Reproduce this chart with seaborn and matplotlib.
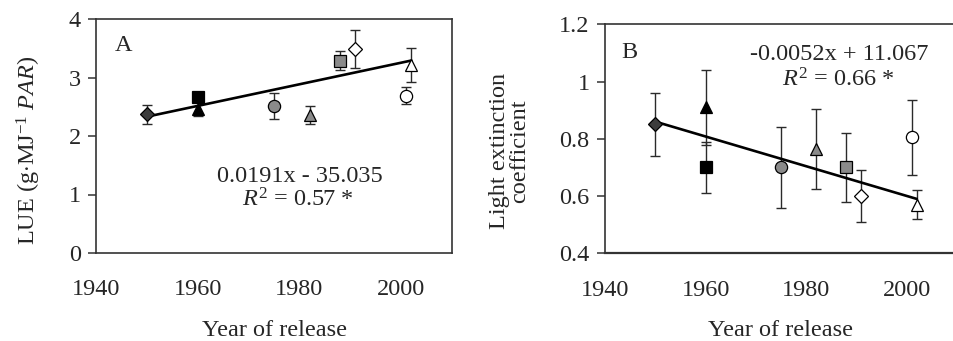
import matplotlib
matplotlib.use("Agg")
import matplotlib.pyplot as plt
import seaborn as sns
import pandas as pd

# ---- data ----
years = [1950, 1960, 1960, 1975, 1982, 1988, 1991, 2001, 2002]
markers = ['D', 's', '^', 'o', '^', 's', 'D', 'o', '^']
face = ['#3c3c3c', 'black', 'black', '#8a8a8a', '#8a8a8a', '#8a8a8a', 'white', 'white', 'white']

lue = [2.37, 2.67, 2.47, 2.51, 2.36, 3.29, 3.49, 2.69, 3.22]
lue_err = [0.16, 0.07, 0.13, 0.22, 0.15, 0.16, 0.33, 0.15, 0.29]

kext = [0.85, 0.70, 0.91, 0.70, 0.765, 0.70, 0.60, 0.805, 0.57]
kext_err = [0.11, 0.09, 0.13, 0.14, 0.14, 0.12, 0.09, 0.13, 0.05]

fit_x = [1950, 2002]
fit_lue = [2.33, 3.29]
fit_k = [0.86, 0.59]

x_major = [1940, 1960, 1980, 2000]
x_minor = [1950, 1970, 1990]
yticks_a = [0, 1, 2, 3, 4]
yticks_b = [0.4, 0.6, 0.8, 1.0, 1.2]
ylabels_b = ['0.4', '0.6', '0.8', '1', '1.2']

sns.set_style("white")
plt.rcParams['font.family'] = ['Liberation Serif', 'DejaVu Serif']
plt.rcParams['mathtext.fontset'] = 'custom'
plt.rcParams['mathtext.rm'] = 'Liberation Serif'
plt.rcParams['mathtext.it'] = 'Liberation Serif:italic'
FS = 17.5

fig = plt.figure(figsize=(9.54, 3.41), dpi=100)
axA = fig.add_axes([96/954, 1-253/341, 356/954, 234/341])
axB = fig.add_axes([605/954, 1-253.3/341, 352/954, 229/341])

msize = {'D': 7.3, 's': 8.0, '^': 8.8, 'o': 8.8}


def draw(ax, vals, errs, fit):
    df = pd.DataFrame({'x': fit_x, 'y': fit})
    sns.lineplot(data=df, x='x', y='y', ax=ax, color='black', lw=1.9, zorder=3)
    for x, v, e, m, f in zip(years, vals, errs, markers, face):
        ax.errorbar(x, v, yerr=e, fmt='none', ecolor='#2a2a2a', elinewidth=1.0,
                    capsize=3.5, capthick=1.0, zorder=2)
        ax.plot([x], [v], marker=m, markersize=msize[m], markerfacecolor=f,
                markeredgecolor='black', markeredgewidth=0.9, linestyle='none', zorder=4)
    ax.set_xlim(1940, 2010)
    ax.set_xticks(x_major)
    ax.set_xticks(x_minor, minor=True)
    ax.set_xticklabels([str(v) for v in x_major], fontsize=FS)
    ax.tick_params(axis='x', which='both', direction='in', length=5, width=1.1,
                   pad=19, color='#333333')
    ax.tick_params(axis='y', direction='out', length=6, width=1.1, pad=5,
                   labelsize=FS, color='#333333', left=True)
    ax.set_xlabel('Year of release', fontsize=FS)
    for s in ax.spines.values():
        s.set_color('#333333')
        s.set_linewidth(1.2)
    ax.grid(False)


draw(axA, lue, lue_err, fit_lue)
axA.set_ylim(0, 4)
axA.set_yticks(yticks_a)
axA.set_yticklabels([str(v) for v in yticks_a])
axA.set_ylabel(r'LUE (g$\cdot$MJ$^{\mathregular{-1}}$ $\mathit{PAR}$)', fontsize=FS)
axA.yaxis.set_label_coords(-0.149, 0.44)
axA.xaxis.set_label_coords(0.5, -0.285)
axA.text(0.076, 0.885, 'A', transform=axA.transAxes, fontsize=FS, ha='center', va='center')
axA.text(0.573, 0.329, '0.0191x - 35.035', transform=axA.transAxes, fontsize=FS,
         ha='center', va='center')
axA.text(0.565, 0.226, r'$R^{\mathregular{2}}$ = 0.57 *', transform=axA.transAxes,
         fontsize=FS, ha='center', va='center')

draw(axB, kext, kext_err, fit_k)
axB.set_ylim(0.4, 1.2)
axB.set_yticks(yticks_b)
axB.set_yticklabels(ylabels_b)
axB.set_ylabel('Light extinction\ncoefficient', fontsize=FS, linespacing=0.95)
axB.yaxis.set_label_coords(-0.213, 0.447)
axB.xaxis.set_label_coords(0.5, -0.291)
axB.spines['bottom'].set_linewidth(1.6)
axB.text(0.068, 0.879, 'B', transform=axB.transAxes, fontsize=FS, ha='center', va='center')
axB.text(0.665, 0.87, '-0.0052x + 11.067', transform=axB.transAxes, fontsize=FS,
         ha='center', va='center')
axB.text(0.662, 0.756, r'$R^{\mathregular{2}}$ = 0.66 *', transform=axB.transAxes,
         fontsize=FS, ha='center', va='center')

fig.savefig('out.png', dpi=100)
